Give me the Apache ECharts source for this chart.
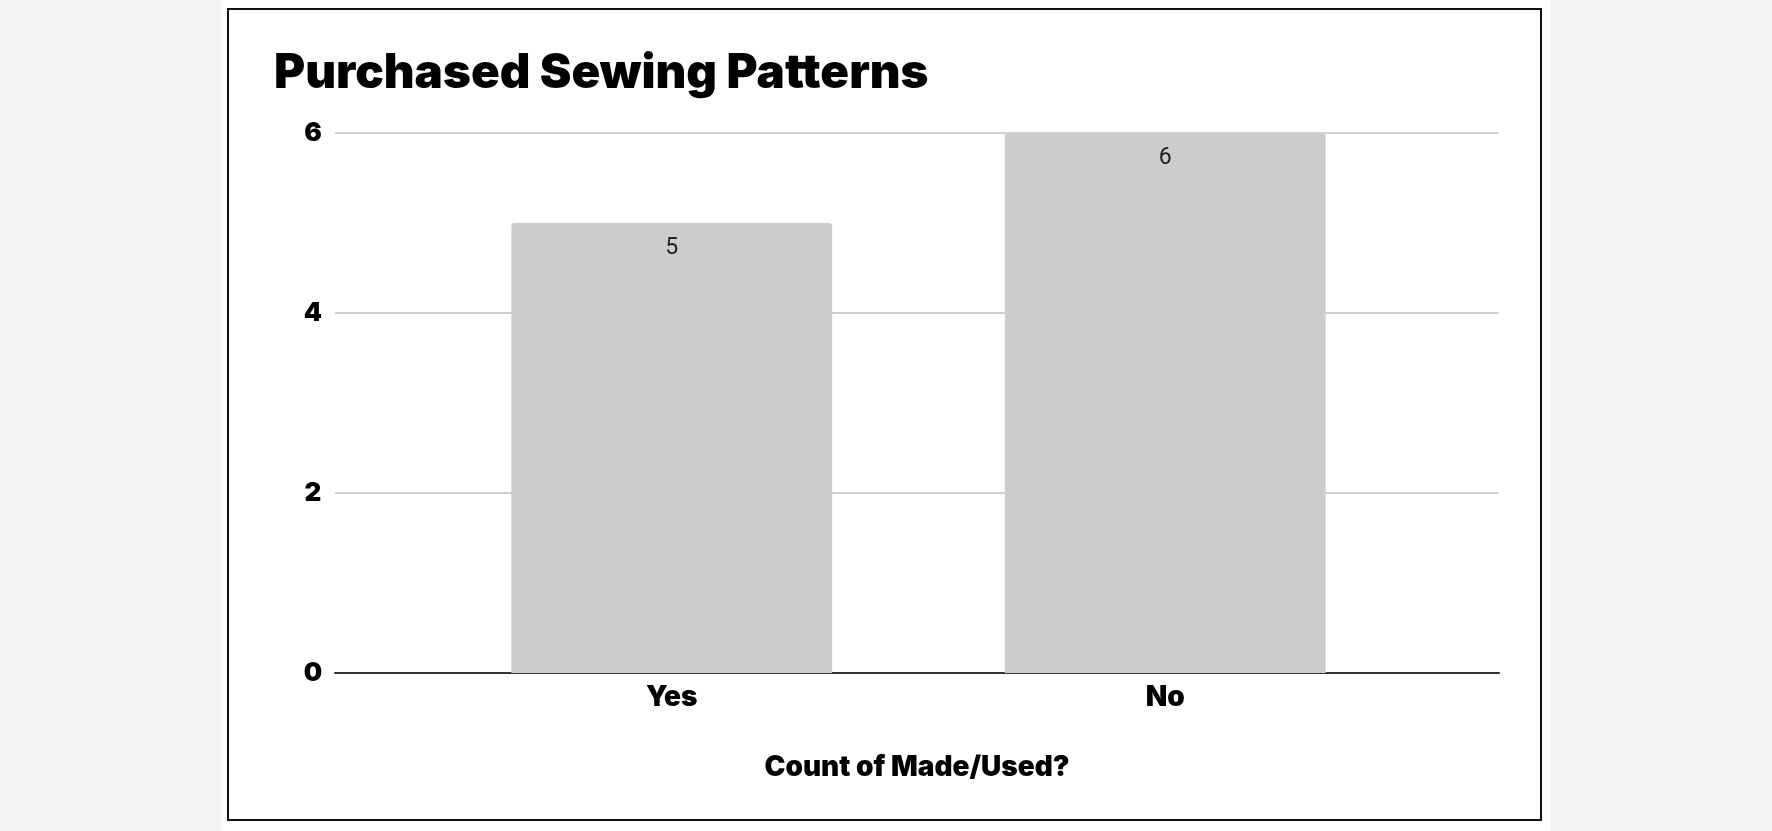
<!DOCTYPE html>
<html>
<head>
<meta charset="utf-8">
<script src="https://cdn.jsdelivr.net/npm/echarts@6/dist/echarts.min.js"></script>
<style>
  html, body { margin: 0; padding: 0; background: #f3f3f3; width: 1772px; height: 831px; overflow: hidden; }
  #page { position: absolute; left: 221px; top: 0; width: 1329px; height: 831px; background: #ffffff; }
  #frame { position: absolute; left: 227px; top: 8px; width: 1311px; height: 809px; border: 2px solid #111; background: #fff; }
  #chart { position: absolute; left: 0; top: 0; width: 1772px; height: 831px; }
</style>
</head>
<body>
<div id="page"></div>
<div id="frame"></div>
<div id="chart"></div>
<script>
const titleText = 'Purchased Sewing Patterns';
const axisTitle = 'Count of Made/Used?';
const categories = ['Yes', 'No'];
const counts = [5, 6];
const yTicks = { min: 0, max: 6, interval: 2 };

const heavy = 'Inter';
const chart = echarts.init(document.getElementById('chart'), null, { renderer: 'canvas' });
chart.setOption({
  backgroundColor: 'transparent',
  animation: false,
  title: {
    text: titleText,
    left: 269, top: 45,
    textStyle: { fontFamily: heavy, fontWeight: 900, fontSize: 47.5, color: '#000' }
  },
  grid: [
    { left: 335, right: 273, top: 133, bottom: 158 },
    { left: 425, right: 360, top: 133, bottom: 158 }
  ],
  xAxis: [
    {
      gridIndex: 0, type: 'category', data: [''],
      axisLine: { show: true, lineStyle: { color: '#333', width: 2 } },
      axisTick: { show: false }, axisLabel: { show: false },
      name: axisTitle, nameLocation: 'middle', nameGap: 81,
      nameTextStyle: { fontFamily: heavy, fontWeight: 900, fontSize: 28, color: '#000' }
    },
    {
      gridIndex: 1, type: 'category', data: categories,
      axisLine: { show: false }, axisTick: { show: false },
      axisLabel: { margin: 11, fontFamily: heavy, fontWeight: 900, fontSize: 28, color: '#000' }
    }
  ],
  yAxis: [
    {
      gridIndex: 0, type: 'value', min: yTicks.min, max: yTicks.max, interval: yTicks.interval,
      axisLine: { show: false }, axisTick: { show: false },
      axisLabel: { margin: 22, fontFamily: heavy, fontWeight: 900, fontSize: 26, color: '#000', align: 'center' },
      splitLine: { lineStyle: { color: '#cfcfcf', width: 2 } }
    },
    {
      gridIndex: 1, type: 'value', min: yTicks.min, max: yTicks.max, interval: yTicks.interval,
      show: false, splitLine: { show: false }
    }
  ],
  series: [{
    type: 'bar', xAxisIndex: 1, yAxisIndex: 1,
    data: counts, barWidth: '65%',
    itemStyle: { color: '#cccccc', borderRadius: [3, 3, 0, 0] },
    label: { show: true, position: 'insideTop', distance: 14, fontFamily: 'Roboto', fontSize: 23, color: '#222' },
    z: 1
  }]
});
</script>
</body>
</html>
